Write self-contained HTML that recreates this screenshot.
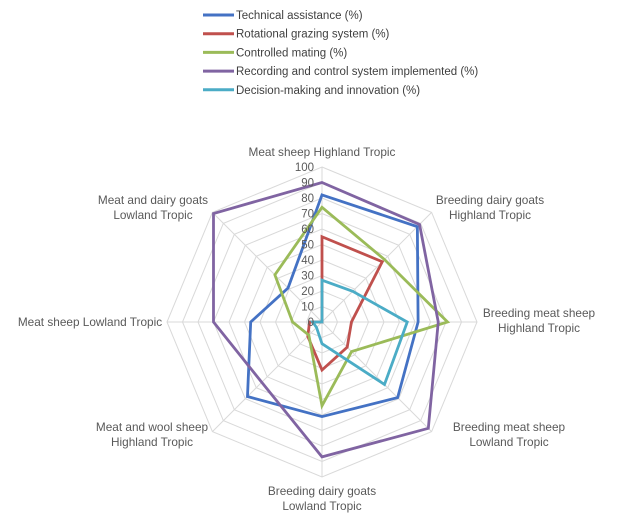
<!DOCTYPE html>
<html><head><meta charset="utf-8"><style>
body{margin:0;background:#fff;}
svg{display:block;font-family:"Liberation Sans",sans-serif;}
</style></head><body>
<svg id="chart" width="632" height="514"></svg>
<script>
const categories=["Meat sheep Highland Tropic","Breeding dairy goats|Highland Tropic","Breeding meat sheep|Highland Tropic","Breeding meat sheep|Lowland Tropic","Breeding dairy goats|Lowland Tropic","Meat and wool sheep|Highland Tropic","Meat sheep Lowland Tropic","Meat and dairy goats|Lowland Tropic"];
const seriesNames=["Technical assistance (%)","Rotational grazing system (%)","Controlled mating (%)","Recording and control system implemented (%)","Decision-making and innovation (%)"];
const technical=[82,87,62,69,61,68,46,31];
const rotational=[55,55,19,23,31,13,8,0];
const mating=[74,57,81,27,54,12,19,43];
const recording=[90,89,75,97,87,55,70,99];
const decision=[27,28,55,57,14,5,6,0];
const ticks=[0,10,20,30,40,50,60,70,80,90,100];
const colors=["#4472C4","#C0504D","#9BBB59","#8064A2","#4BACC6"];
const series=[technical,rotational,mating,recording,decision];
const slugs=["technical-assistance","rotational-grazing","controlled-mating","recording-control","decision-making"];
const labelPos=[[322,156,"middle"],[490,204,"middle"],[539,317,"middle"],[509,431,"middle"],[322,495,"middle"],[152,431,"middle"],[90,326,"middle"],[153,204,"middle"]];
const NS="http://www.w3.org/2000/svg";
const svg=document.getElementById('chart');
const cx=322,cy=322,R=155;
function pt(i,v){const a=-Math.PI/2+i*2*Math.PI/categories.length;const r=v/100*R;return [cx+r*Math.cos(a),cy+r*Math.sin(a)];}
function mk(t,attrs){const e=document.createElementNS(NS,t);for(const k in attrs)e.setAttribute(k,attrs[k]);svg.appendChild(e);return e;}
ticks.forEach(t=>{if(t===0)return;const pts=categories.map((c,i)=>pt(i,t).join(',')).join(' ');
const g=mk('polygon',{points:pts,fill:'none',stroke:'#d9d9d9','stroke-width':1});

});
categories.forEach((c,i)=>{const p=pt(i,100);const l=mk('line',{x1:cx,y1:cy,x2:p[0],y2:p[1],stroke:'#d9d9d9','stroke-width':1});

});
series.forEach((s,k)=>{const pts=s.map((v,i)=>pt(i,v).join(',')).join(' ');
const p=mk('polygon',{points:pts,fill:'none',stroke:colors[k],'stroke-width':2.8,'stroke-linejoin':'miter'});

});
ticks.forEach(t=>{const y=cy-t/100*R;const e=mk('text',{x:314,y:y+4,'text-anchor':'end','font-size':11.5,fill:'#595959'});e.textContent=t;

});
categories.forEach((c,i)=>{const [x,y,anc]=labelPos[i];const e=mk('text',{x:x,y:y,'text-anchor':anc,'font-size':11.8,fill:'#595959'});
c.split('|').forEach((ln,j)=>{const ts=document.createElementNS(NS,'tspan');ts.setAttribute('x',x);ts.setAttribute('dy',j?15:0);ts.textContent=ln;e.appendChild(ts);});

});
seriesNames.forEach((n,k)=>{const y=15+k*18.7;
const l=mk('line',{x1:203,y1:y,x2:234,y2:y,stroke:colors[k],'stroke-width':3});


const t=mk('text',{x:236,y:y+4,'font-size':11.5,fill:'#404040'});t.textContent=n;

});
</script>
</body></html>
